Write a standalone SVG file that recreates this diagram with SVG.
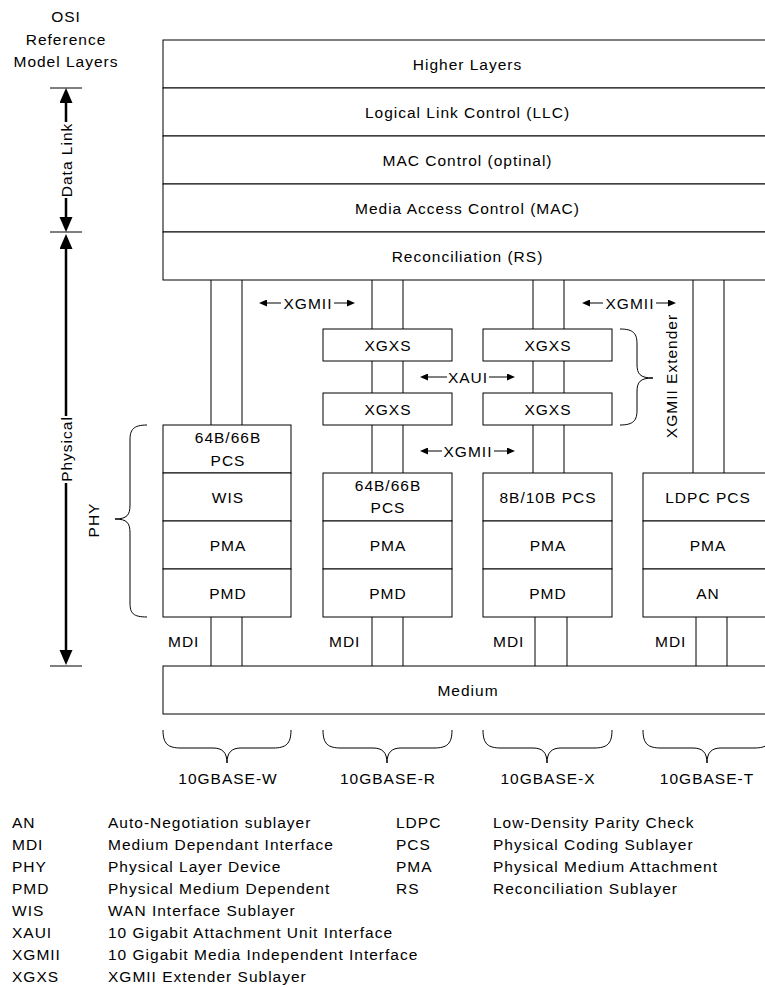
<svg xmlns="http://www.w3.org/2000/svg" width="765" height="988" viewBox="0 0 765 988">
<style>
text{font-family:"Liberation Sans",Arial,sans-serif;font-size:15.5px;letter-spacing:1px;fill:#000}
.c{text-anchor:middle}
.box{fill:#fff;stroke:#000;stroke-width:1}
.ln{stroke:#000;stroke-width:1;fill:none}
.big{stroke:#000;stroke-width:2.5;fill:none}
.tick{stroke:#000;stroke-width:1}
</style>
<defs>
<marker id="ba" markerUnits="userSpaceOnUse" markerWidth="16" markerHeight="14" refX="0" refY="6.5" orient="auto" viewBox="0 0 16 14"><path d="M0,0 L15,6.5 L0,13 z" fill="#000"/></marker>
<marker id="sa" markerUnits="userSpaceOnUse" markerWidth="9" markerHeight="7" refX="0" refY="3.5" orient="auto" viewBox="0 0 9 7"><path d="M0,0 L8,3.5 L0,7 z" fill="#000"/></marker>
</defs>
<rect width="765" height="988" fill="#fff"/>

<g id="osi-title">
<text class="c" x="66" y="22">OSI</text>
<text class="c" x="66" y="45">Reference</text>
<text class="c" x="66" y="67">Model Layers</text>
</g>

<g id="stack">
<rect class="box" x="163" y="40" width="620" height="48"/><text class="c" x="467.5" y="69.5">Higher Layers</text>
<rect class="box" x="163" y="88" width="620" height="48"/><text class="c" x="467.5" y="117.5">Logical Link Control (LLC)</text>
<rect class="box" x="163" y="136" width="620" height="48"/><text class="c" x="467.5" y="165.5">MAC Control (optinal)</text>
<rect class="box" x="163" y="184" width="620" height="48"/><text class="c" x="467.5" y="213.5">Media Access Control (MAC)</text>
<rect class="box" x="163" y="232" width="620" height="48"/><text class="c" x="467.5" y="261.5">Reconciliation (RS)</text>
</g>

<g id="connectors">
<path class="ln" d="M211,280V425M242,280V425"/>
<path class="ln" d="M372,280V329M403,280V329M372,361V393M403,361V393M372,425V473M403,425V473"/>
<path class="ln" d="M533,280V329M564,280V329M533,361V393M564,361V393M533,425V473M564,425V473"/>
<path class="ln" d="M693,280V473M724,280V473"/>
<path class="ln" d="M211,617V666M242,617V666M372,617V666M403,617V666M535,617V666M567,617V666M696,617V666M727,617V666"/>
<line class="ln" x1="281" y1="303" x2="267" y2="303" marker-end="url(#sa)"/>
<line class="ln" x1="334" y1="303" x2="347" y2="303" marker-end="url(#sa)"/>
<line class="ln" x1="603" y1="303" x2="590" y2="303" marker-end="url(#sa)"/>
<line class="ln" x1="656" y1="303" x2="668" y2="303" marker-end="url(#sa)"/>
<line class="ln" x1="447" y1="377" x2="428" y2="377" marker-end="url(#sa)"/>
<line class="ln" x1="489" y1="377" x2="507" y2="377" marker-end="url(#sa)"/>
<line class="ln" x1="442" y1="451" x2="428" y2="451" marker-end="url(#sa)"/>
<line class="ln" x1="494" y1="451" x2="507" y2="451" marker-end="url(#sa)"/>
<path class="tick" d="M50,88H82M50,232H82M50,666H82"/>
<line class="big" x1="66" y1="122" x2="66" y2="103" marker-end="url(#ba)"/>
<line class="big" x1="66" y1="198" x2="66" y2="217" marker-end="url(#ba)"/>
<line class="big" x1="66" y1="416" x2="66" y2="249" marker-end="url(#ba)"/>
<line class="big" x1="66" y1="483" x2="66" y2="650" marker-end="url(#ba)"/>
<path class="ln" d="M147,425 C133,425 130,430 130,440 L130,505 C130,515 127,519 115,519 C127,519 130,523 130,533 L130,603 C130,613 133,617 147,617"/>
<path class="ln" d="M620,329 C634,329 637,334 637,344 L637,364 C637,374 640,378 653,378 C640,378 637,382 637,392 L637,410 C637,420 634,425 620,425"/>
<path class="ln" d="M163,730 C163,744 168,748 181,748 L213,748 C222,748 227,752 227,763 C227,752 232,748 241,748 L273,748 C286,748 291,744 291,730"/>
<path class="ln" d="M323,730 C323,744 328,748 341,748 L373,748 C382,748 387,752 387,763 C387,752 392,748 401,748 L434,748 C447,748 452,744 452,730"/>
<path class="ln" d="M483,730 C483,744 488,748 501,748 L533,748 C542,748 547,752 547,763 C547,752 552,748 561,748 L594,748 C607,748 612,744 612,730"/>
<path class="ln" d="M643,730 C643,744 648,748 661,748 L693,748 C702,748 707,752 707,763 C707,752 712,748 721,748 L754,748 C767,748 772,744 772,730"/>
</g>

<g id="osi-labels">
<text class="c" transform="translate(71.5,160) rotate(-90)">Data Link</text>
<text class="c" transform="translate(71.5,449) rotate(-90)">Physical</text>
<text class="c" transform="translate(98.5,520) rotate(-90)">PHY</text>
<text class="c" transform="translate(677,376) rotate(-90)">XGMII Extender</text>
</g>

<g id="if-labels">
<text class="c" x="308" y="308.5">XGMII</text>
<text class="c" x="630" y="308.5">XGMII</text>
<text class="c" x="468" y="382.5">XAUI</text>
<text class="c" x="468" y="456.5">XGMII</text>
</g>

<g id="xgxs-r">
<rect class="box" x="323" y="329" width="129" height="32"/><text class="c" x="388" y="350.5">XGXS</text>
<rect class="box" x="323" y="393" width="129" height="32"/><text class="c" x="388" y="414.5">XGXS</text>
</g>
<g id="xgxs-x">
<rect class="box" x="483" y="329" width="129" height="32"/><text class="c" x="548" y="350.5">XGXS</text>
<rect class="box" x="483" y="393" width="129" height="32"/><text class="c" x="548" y="414.5">XGXS</text>
</g>

<g id="col-w">
<rect class="box" x="163" y="425" width="128" height="48"/><text class="c" x="228" y="443">64B/66B</text><text class="c" x="228" y="466">PCS</text>
<rect class="box" x="163" y="473" width="128" height="48"/><text class="c" x="228" y="502.5">WIS</text>
<rect class="box" x="163" y="521" width="128" height="48"/><text class="c" x="228" y="550.5">PMA</text>
<rect class="box" x="163" y="569" width="128" height="48"/><text class="c" x="228" y="598.5">PMD</text>
</g>
<g id="col-r">
<rect class="box" x="323" y="473" width="129" height="48"/><text class="c" x="388" y="491">64B/66B</text><text class="c" x="388" y="513">PCS</text>
<rect class="box" x="323" y="521" width="129" height="48"/><text class="c" x="388" y="550.5">PMA</text>
<rect class="box" x="323" y="569" width="129" height="48"/><text class="c" x="388" y="598.5">PMD</text>
</g>
<g id="col-x">
<rect class="box" x="483" y="473" width="129" height="48"/><text class="c" x="548" y="502.5">8B/10B PCS</text>
<rect class="box" x="483" y="521" width="129" height="48"/><text class="c" x="548" y="550.5">PMA</text>
<rect class="box" x="483" y="569" width="129" height="48"/><text class="c" x="548" y="598.5">PMD</text>
</g>
<g id="col-t">
<rect class="box" x="643" y="473" width="129" height="48"/><text class="c" x="708" y="502.5">LDPC PCS</text>
<rect class="box" x="643" y="521" width="129" height="48"/><text class="c" x="708" y="550.5">PMA</text>
<rect class="box" x="643" y="569" width="129" height="48"/><text class="c" x="708" y="598.5">AN</text>
</g>

<g id="mdi-labels">
<text x="168" y="646.5">MDI</text>
<text x="329" y="646.5">MDI</text>
<text x="493" y="646.5">MDI</text>
<text x="655" y="646.5">MDI</text>
</g>

<g id="medium">
<rect class="box" x="163" y="666" width="620" height="48"/><text class="c" x="468" y="695.5">Medium</text>
</g>

<g id="variants">
<text class="c" x="228" y="783.5">10GBASE-W</text>
<text class="c" x="388" y="783.5">10GBASE-R</text>
<text class="c" x="548" y="783.5">10GBASE-X</text>
<text class="c" x="707" y="783.5">10GBASE-T</text>
</g>

<g id="legend">
<text x="12" y="828">AN</text><text x="108" y="828">Auto-Negotiation sublayer</text>
<text x="12" y="850">MDI</text><text x="108" y="850">Medium Dependant Interface</text>
<text x="12" y="872">PHY</text><text x="108" y="872">Physical Layer Device</text>
<text x="12" y="894">PMD</text><text x="108" y="894">Physical Medium Dependent</text>
<text x="12" y="916">WIS</text><text x="108" y="916">WAN Interface Sublayer</text>
<text x="12" y="938">XAUI</text><text x="108" y="938">10 Gigabit Attachment Unit Interface</text>
<text x="12" y="960">XGMII</text><text x="108" y="960">10 Gigabit Media Independent Interface</text>
<text x="12" y="982">XGXS</text><text x="108" y="982">XGMII Extender Sublayer</text>
<text x="396" y="828">LDPC</text><text x="493" y="828">Low-Density Parity Check</text>
<text x="396" y="850">PCS</text><text x="493" y="850">Physical Coding Sublayer</text>
<text x="396" y="872">PMA</text><text x="493" y="872">Physical Medium Attachment</text>
<text x="396" y="894">RS</text><text x="493" y="894">Reconciliation Sublayer</text>
</g>
</svg>
